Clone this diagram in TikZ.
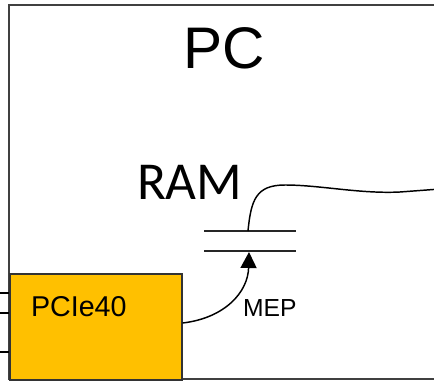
\documentclass[tikz,border=0pt]{standalone}
\usepackage{fontspec}
\setmainfont{Liberation Sans}
\newfontfamily\calib{Carlito}
\usetikzlibrary{arrows.meta}
\definecolor{pcieorange}{HTML}{FFC000}
\begin{document}
\begin{tikzpicture}[x=0.75pt,y=-0.75pt,
  boxline/.style={draw=black!75,line width=1.5pt},
  wire/.style={draw=black,line width=1.1pt},
  ramline/.style={draw=black!85,line width=1.5pt},
  lbl/.style={inner sep=0pt,outer sep=0pt}]
\useasboundingbox (0,0) rectangle (434,381);
\begin{scope}
\clip (0,0) rectangle (434,381);
% PC box
\draw[boxline] (445,5) -- (9,5) -- (9,379) -- (445,379);
\node[lbl,anchor=base] (pc) at (224,69) {\fontsize{44pt}{48pt}\selectfont PC};
% RAM
\node[lbl,anchor=base west] (ram) at (137,199) {\calib\fontsize{40pt}{44pt}\selectfont RAM};
\coordinate (r1l) at (204,231); \coordinate (r1r) at (296,231);
\coordinate (r2l) at (204,251); \coordinate (r2r) at (296,251);
\draw[ramline] (r1l) -- (r1r);
\draw[ramline] (r2l) -- (r2r);
\coordinate (wstart) at (248,231);
\coordinate (wend) at (440,189);
\draw[wire] (wstart) .. controls (251,200) and (256,185) .. (285,185)
  .. controls (320,185) and (360,194) .. (400,192)
  .. controls (420,191) .. (wend);
% PCIe40
\node[draw=black!80,line width=1.2pt,fill=pcieorange,anchor=north west,
  minimum width=172*0.75pt,minimum height=106*0.75pt,inner sep=0pt] (pcie) at (9,273) {};
\node[lbl,anchor=base west] (pcietxt) at (31,316) {\fontsize{21.5pt}{25pt}\selectfont PCIe40};
\coordinate (i1) at (0,293); \coordinate (i2) at (0,313); \coordinate (i3) at (0,352);
\draw[line width=1pt] (i1) -- (i1 -| pcie.west);
\draw[line width=1pt] (i2) -- (i2 -| pcie.west);
\draw[line width=1pt] (i3) -- (i3 -| pcie.west);
% MEP arrow
\coordinate (tip) at (249,252);
\draw[wire,-{Triangle[length=12pt,width=12pt]}] (pcie.east |- 0,323) .. controls (225,318) and (248,292) .. (tip);
\node[lbl,anchor=base west] (mep) at (243,316) {\fontsize{18.5pt}{22pt}\selectfont MEP};
\end{scope}
\end{tikzpicture}
\end{document}
